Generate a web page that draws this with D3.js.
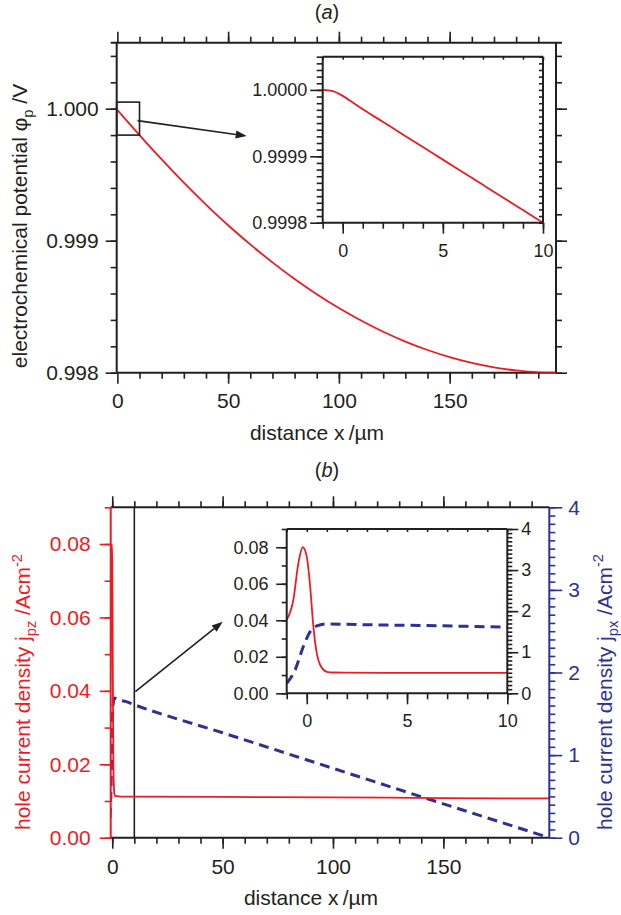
<!DOCTYPE html>
<html>
<head>
<meta charset="utf-8">
<script src="https://cdn.jsdelivr.net/npm/d3@7"></script>
<style>
  body { margin: 0; background: #fff; }
  svg { display: block; font-family: "Liberation Sans", Arial, Helvetica, sans-serif; }
</style>
</head>
<body>
<svg id="chart" width="621" height="915"></svg>
<script>
// ---- values ----
// (a) electrochemical potential vs distance
var phiX = [-1, -0.5, 0, 0.5, 1, 2, 3, 4, 5, 6, 7, 8, 9, 10,
            20, 30, 40, 50, 60, 70, 80, 90, 100, 110, 120, 130, 140, 150, 160, 170, 180, 190, 198];
var phiY = [1.000000, 0.999998, 0.999991, 0.999981, 0.999971, 0.999952, 0.999933, 0.999914,
            0.999895, 0.999876, 0.999857, 0.999838, 0.999819, 0.999800,
            0.999616, 0.999440, 0.999274, 0.999117, 0.998972, 0.998836, 0.998710, 0.998595,
            0.998490, 0.998395, 0.998310, 0.998236, 0.998172, 0.998118, 0.998074, 0.998040,
            0.998017, 0.998003, 0.998000];

// (b) hole current densities
var jpzX = [-1, -0.67, -0.42, -0.2, 0, 0.17, 0.33, 0.5, 0.67, 1, 1.33, 2, 4, 6, 8, 10, 50, 100, 150, 198];
var jpz  = [0.0402, 0.0511, 0.0712, 0.0800, 0.0749, 0.0584, 0.0365, 0.0219, 0.0155, 0.0118,
            0.0114, 0.0113, 0.0112, 0.0112, 0.0112, 0.0112, 0.0111, 0.0110, 0.0108, 0.0107];
var jpxX = [-1, -0.58, -0.17, 0.17, 0.5, 1, 2, 4, 6, 8, 10, 50, 100, 150, 198];
var jpx  = [0.24, 0.57, 1.14, 1.50, 1.64, 1.69, 1.68, 1.66, 1.65, 1.63, 1.61, 1.27, 0.84, 0.41, 0.0];

// tick labels
var xMajor = [0, 50, 100, 150];
var xInsetMajor = [0, 5, 10];
var phiMajor = [0.998, 0.999, 1.000];
var phiInsetMajor = [0.9998, 0.9999, 1.0000];
var jpzMajor = [0, 0.02, 0.04, 0.06, 0.08];
var jpxMajor = [0, 1, 2, 3, 4];

var RED = '#ed1c24', BLUE = '#2e3192', INK = '#231f20';

var svg = d3.select('#chart');

function zip(xs, ys) { return xs.map(function (x, i) { return [x, ys[i]]; }); }
function steps(a, n, s) { return d3.range(n).map(function (i) { return +(a + i * s).toFixed(6); }); }

// one set of ticks (major + minor) on one side
function axisPair(parent, gen, scale, major, minor, o) {
    [[minor, o.minLen, ''], [major, o.len, o.fmt || '']].forEach(function (p) {
        var g = parent.append('g')
            .attr('transform', o.at)
            .call(gen(scale).tickValues(p[0]).tickSize(p[1]).tickSizeOuter(0)
                .tickPadding(o.pad || 3).tickFormat(p[2]))
            .attr('font-size', null).attr('font-family', null);
        g.select('.domain').remove();
        g.selectAll('line').attr('stroke', o.color || INK).attr('stroke-width', 1.6);
        g.selectAll('text').attr('fill', o.color || INK).style('font-size', (o.size || 21) + 'px');
    });
}

function frameLine(x1, y1, x2, y2, color, w) {
    svg.append('line').attr('x1', x1).attr('y1', y1).attr('x2', x2).attr('y2', y2)
        .attr('stroke', color || INK).attr('stroke-width', w || 2);
}

function arrow(x1, y1, x2, y2) {
    var ang = Math.atan2(y2 - y1, x2 - x1), L = 11, W = 4;
    var bx = x2 - L * Math.cos(ang), by = y2 - L * Math.sin(ang);
    frameLine(x1, y1, bx, by, INK, 1.6);
    svg.append('path')
        .attr('d', 'M' + x2 + ',' + y2 +
            'L' + (bx + W * Math.sin(ang)) + ',' + (by - W * Math.cos(ang)) +
            'L' + (bx - W * Math.sin(ang)) + ',' + (by + W * Math.cos(ang)) + 'Z')
        .attr('fill', INK);
}

function clip(id, box) {
    svg.append('clipPath').attr('id', id).append('rect')
        .attr('x', box.l).attr('y', box.t).attr('width', box.r - box.l).attr('height', box.b - box.t);
    return 'url(#' + id + ')';
}

function curve(xs, ys, clipUrl, x, y, color, w, dash) {
    svg.append('path')
        .datum(zip(xs, ys))
        .attr('clip-path', clipUrl)
        .attr('fill', 'none')
        .attr('stroke', color)
        .attr('stroke-width', w)
        .attr('stroke-dasharray', dash || null)
        .attr('d', d3.line().x(function (d) { return x(d[0]); }).y(function (d) { return y(d[1]); })
            .curve(d3.curveMonotoneX));
}

function label(x, y, size, color, parts, rotate, anchor) {
    var t = svg.append('text')
        .attr('transform', 'translate(' + x + ',' + y + ')' + (rotate ? ' rotate(-90)' : ''))
        .attr('text-anchor', anchor || 'middle')
        .attr('fill', color)
        .style('font-size', size + 'px');
    parts.forEach(function (p) {
        var s = t.append('tspan').text(p.t);
        if (p.sub) s.attr('dy', size * 0.28).style('font-size', (size * 0.7) + 'px');
        if (p.sup) s.attr('dy', -size * 0.4).style('font-size', (size * 0.7) + 'px');
        if (p.back) s.attr('dy', p.back);
        if (p.it) s.style('font-style', 'italic');
    });
    return t;
}

// ================= panel (a) =================
var A = {l: 116.7, r: 556, t: 42.7, b: 372.7};
var xa = d3.scaleLinear().domain([-0.3, 198]).range([A.l, A.r]);
var ya = d3.scaleLinear().domain([0.998, 1.0005]).range([A.b, A.t]);
var xMinorA = steps(10, 19, 10);
var yMinorA = steps(0.998, 13, 0.0002);

axisPair(svg, d3.axisBottom, xa, xMajor, xMinorA, {at: 'translate(0,' + A.b + ')', len: 11, minLen: 6, pad: 9.3, fmt: d3.format('d')});
axisPair(svg, d3.axisTop, xa, xMajor, xMinorA, {at: 'translate(0,' + A.t + ')', len: 11, minLen: 6});
axisPair(svg, d3.axisLeft, ya, phiMajor, yMinorA, {at: 'translate(' + A.l + ',0)', len: 11, minLen: 6, pad: 7, fmt: d3.format('.3f')});
axisPair(svg, d3.axisRight, ya, phiMajor, yMinorA, {at: 'translate(' + A.r + ',0)', len: 11, minLen: 6});
frameLine(A.l - 6, A.t, A.r + 6, A.t);
frameLine(A.l, A.b, A.r, A.b);
frameLine(A.l, A.t, A.l, A.b);
frameLine(A.r, A.t, A.r, A.b);

curve(phiX, phiY, clip('clipA', A), xa, ya, RED, 1.8);

// inset (a)
var IA = {l: 322.7, r: 543, t: 56.7, b: 222.7};
var xia = d3.scaleLinear().domain([-1, 10]).range([IA.l, IA.r]);
var yia = d3.scaleLinear().domain([0.9998, 1.00005]).range([IA.b, IA.t]);

// zoom box on the main curve
svg.append('rect')
    .attr('x', xa(-0.3)).attr('y', ya(yia.domain()[1]))
    .attr('width', xa(10) - xa(-0.3)).attr('height', ya(yia.domain()[0]) - ya(yia.domain()[1]))
    .attr('fill', 'none').attr('stroke', INK).attr('stroke-width', 1.6);
arrow(xa(10) - 2, (ya(yia.domain()[1]) + ya(yia.domain()[0])) / 2 + 2, IA.l - 76, 136);

svg.append('rect').attr('x', IA.l).attr('y', IA.t).attr('width', IA.r - IA.l).attr('height', IA.b - IA.t)
    .attr('fill', '#fff');
var xMinorIA = steps(-1, 12, 1);
var yMinorIA = steps(0.9998, 26, 0.00001);
axisPair(svg, d3.axisBottom, xia, xInsetMajor, xMinorIA, {at: 'translate(0,' + IA.b + ')', len: 11, minLen: 6, pad: 10.5, size: 18, fmt: d3.format('d')});
axisPair(svg, d3.axisTop, xia, [], xMinorIA, {at: 'translate(0,' + IA.t + ')', len: 0, minLen: -3});
axisPair(svg, d3.axisLeft, yia, phiInsetMajor, yMinorIA, {at: 'translate(' + IA.l + ',0)', len: 12.5, minLen: 6, pad: 3, size: 18, fmt: d3.format('.4f')});
axisPair(svg, d3.axisRight, yia, [], yMinorIA, {at: 'translate(' + IA.r + ',0)', len: 0, minLen: -4});
curve(phiX, phiY, clip('clipIA', IA), xia, yia, RED, 1.8);
frameLine(IA.l, IA.t, IA.r, IA.t);
frameLine(IA.l, IA.b, IA.r, IA.b);
frameLine(IA.l, IA.t, IA.l, IA.b);
frameLine(IA.r, IA.t, IA.r, IA.b);

label(327, 19, 20, INK, [{t: '('}, {t: 'a', it: true}, {t: ')'}]);
label(317, 440, 21, INK, [{t: 'distance x\u2009/\u00b5m'}]);
label(26.7, 226, 21, INK, [{t: 'electrochemical potential \u03c6'}, {t: 'p', sub: true}, {t: ' /V', back: -21 * 0.28}], true);

// ================= panel (b) =================
var B = {l: 110.7, r: 549.3, t: 507.3, b: 837.7};
var xb = d3.scaleLinear().domain([-0.7, 198]).range([B.l, B.r]);
var ybl = d3.scaleLinear().domain([0, 0.09]).range([B.b, B.t]);
var ybr = d3.scaleLinear().domain([0, 4]).range([B.b, B.t]);
var xMinorB = steps(0, 20, 10);
var ylMinor = steps(0, 10, 0.01);
var yrMinor = steps(0, 41, 0.1);

axisPair(svg, d3.axisBottom, xb, xMajor, xMinorB, {at: 'translate(0,' + B.b + ')', len: 11, minLen: 6, pad: 10.3, fmt: d3.format('d')});
axisPair(svg, d3.axisTop, xb, xMajor, xMinorB, {at: 'translate(0,' + B.t + ')', len: 11, minLen: 6});
axisPair(svg, d3.axisLeft, ybl, jpzMajor, ylMinor, {at: 'translate(' + B.l + ',0)', len: 11, minLen: 6, pad: 9, color: RED, fmt: d3.format('.2f')});
axisPair(svg, d3.axisRight, ybr, jpxMajor, yrMinor, {at: 'translate(' + B.r + ',0)', len: 13, minLen: 6, pad: 6, color: BLUE, fmt: d3.format('d')});

// x = 10 um marker
frameLine(xb(10), B.t, xb(10), B.b, INK, 1.6);

var clipB = clip('clipB', B);
curve(jpxX, jpx, clipB, xb, ybr, BLUE, 3, '10,6');
curve(jpzX, jpz, clipB, xb, ybl, RED, 1.8);

frameLine(B.l, B.t, B.r, B.t);
frameLine(B.l, B.b, B.r, B.b);
frameLine(B.l, B.t, B.l, B.b, RED);
frameLine(B.r, B.t, B.r, B.b, BLUE);

arrow(xb(10) + 1, 691.7, 222.7, 621.7);

// inset (b)
var IB = {l: 286.7, r: 507.3, t: 529, b: 693.3};
var xib = d3.scaleLinear().domain([-1, 10]).range([IB.l, IB.r]);
var yibl = d3.scaleLinear().domain([0, 0.09]).range([IB.b, IB.t]);
var yibr = d3.scaleLinear().domain([0, 4]).range([IB.b, IB.t]);

svg.append('rect').attr('x', IB.l).attr('y', IB.t).attr('width', IB.r - IB.l).attr('height', IB.b - IB.t)
    .attr('fill', '#fff');
var xMinorIB = steps(-1, 12, 1);
axisPair(svg, d3.axisBottom, xib, xInsetMajor, xMinorIB, {at: 'translate(0,' + IB.b + ')', len: 11, minLen: 6, pad: 9.6, size: 18, fmt: d3.format('d')});
axisPair(svg, d3.axisTop, xib, [], xMinorIB, {at: 'translate(0,' + IB.t + ')', len: 0, minLen: -3});
axisPair(svg, d3.axisLeft, yibl, jpzMajor, ylMinor, {at: 'translate(' + IB.l + ',0)', len: 10.5, minLen: 5, pad: 7.7, size: 18, fmt: d3.format('.2f')});
axisPair(svg, d3.axisRight, yibr, jpxMajor, yrMinor, {at: 'translate(' + IB.r + ',0)', len: 11, minLen: 5, pad: 3, size: 18, fmt: d3.format('d')});

var clipIB = clip('clipIB', IB);
curve(jpxX, jpx, clipIB, xib, yibr, BLUE, 3, '10,6');
curve(jpzX, jpz, clipIB, xib, yibl, RED, 1.8);
frameLine(IB.l, IB.t, IB.r, IB.t);
frameLine(IB.l, IB.b, IB.r, IB.b);
frameLine(IB.l, IB.t, IB.l, IB.b);
frameLine(IB.r, IB.t, IB.r, IB.b);

label(327, 477, 20, INK, [{t: '('}, {t: 'b', it: true}, {t: ')'}]);
label(311, 905, 21, INK, [{t: 'distance x\u2009/\u00b5m'}]);
label(30, 692, 21, RED, [{t: 'hole current density j'}, {t: 'pz', sub: true}, {t: ' /Acm', back: -21 * 0.28}, {t: '-2', sup: true}], true);
label(611.7, 692, 21, BLUE, [{t: 'hole current density j'}, {t: 'px', sub: true}, {t: ' /Acm', back: -21 * 0.28}, {t: '-2', sup: true}], true);
</script>
</body>
</html>
